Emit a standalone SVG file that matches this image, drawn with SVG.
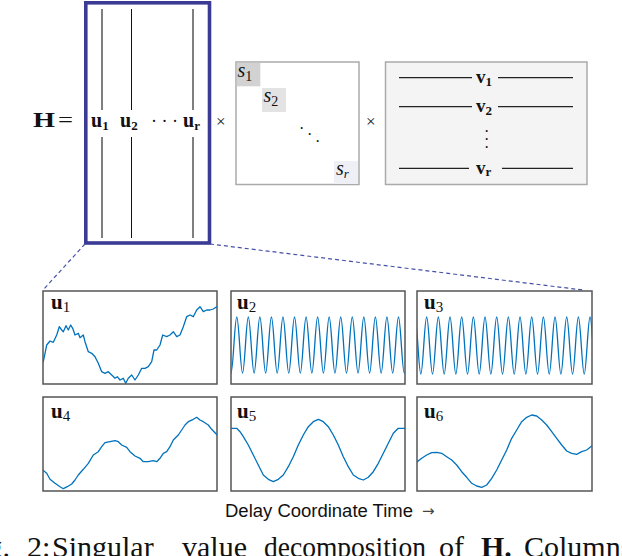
<svg xmlns="http://www.w3.org/2000/svg" width="622" height="556" viewBox="0 0 622 556">
<style>
.m{font-family:"Liberation Serif","Times New Roman",serif;fill:#111}
.b{font-weight:bold}
.i{font-style:italic}
.panel{fill:#fff;stroke:#555;stroke-width:1.5}
.wave{fill:none;stroke:#0072BD;stroke-width:1.3;stroke-linejoin:round;stroke-linecap:round}
.col{stroke:#555;stroke-width:1.5}
.vline{stroke:#222;stroke-width:1.2}
.dash{stroke:#4650a8;stroke-width:1.2;stroke-dasharray:4 3;fill:none}
.box{stroke:#aaa;stroke-width:1.5}
</style>
<defs>
<clipPath id="c1"><rect x="43" y="291" width="174" height="93"/></clipPath>
<clipPath id="c2"><rect x="231" y="291" width="174" height="93"/></clipPath>
<clipPath id="c3"><rect x="417" y="291" width="175" height="93"/></clipPath>
<clipPath id="c4"><rect x="43" y="397" width="174" height="94"/></clipPath>
<clipPath id="c5"><rect x="231" y="397" width="174" height="94"/></clipPath>
<clipPath id="c6"><rect x="417" y="397" width="175" height="94"/></clipPath>
</defs>
<rect width="622" height="556" fill="#fff"/>

<g id="H-label">
<text class="m b" x="33" y="127" font-size="21" textLength="22" lengthAdjust="spacingAndGlyphs">H</text>
<text class="m" x="58" y="127" font-size="22" textLength="15" lengthAdjust="spacingAndGlyphs">=</text>
</g>

<g id="U-matrix">
<rect x="85.8" y="2.8" width="123.7" height="240.2" fill="none" stroke="#3b3b96" stroke-width="3.6"/>
<line class="col" x1="102" y1="9" x2="102" y2="110"/>
<line class="col" x1="102" y1="137" x2="102" y2="238"/>
<line x1="131.5" y1="9" x2="131.5" y2="110" stroke="#111" stroke-width="1"/>
<line x1="131.5" y1="137" x2="131.5" y2="238" stroke="#111" stroke-width="1"/>
<line class="col" x1="193" y1="9" x2="193" y2="110"/>
<line class="col" x1="193" y1="137" x2="193" y2="238"/>
<text class="m b" x="91" y="127" font-size="20">u<tspan font-size="13" dy="3">1</tspan></text>
<text class="m b" x="120" y="127" font-size="20">u<tspan font-size="13" dy="3">2</tspan></text>
<text class="m" x="151" y="127" font-size="18" fill="#444">· · ·</text>
<text class="m b" x="183" y="127" font-size="20">u<tspan font-size="13" dy="3">r</tspan></text>
</g>

<g id="times1"><text class="m" x="216" y="127" font-size="17" fill="#333">×</text></g>

<g id="S-matrix">
<rect class="box" x="236" y="62" width="123" height="122.5" fill="#fff"/>
<rect x="236.8" y="62.8" width="23.5" height="23.5" fill="#d2d2d2"/>
<rect x="262" y="88" width="24" height="24" fill="#e3e3e3"/>
<rect x="334" y="161" width="24" height="23" fill="#eef0f5"/>
<text class="m i" x="237.5" y="77" font-size="20">s<tspan font-style="normal" font-size="14" dy="4">1</tspan></text>
<text class="m i" x="263.5" y="102" font-size="20">s<tspan font-style="normal" font-size="14" dy="4">2</tspan></text>
<text class="m i" x="336" y="175" font-size="20">s<tspan font-size="13" dy="3">r</tspan></text>
<text class="m" font-size="16"><tspan x="299" y="134">·</tspan><tspan x="307" y="140">·</tspan><tspan x="315" y="147">·</tspan></text>
</g>

<g id="times2"><text class="m" x="366" y="127" font-size="17" fill="#333">×</text></g>

<g id="V-matrix">
<rect class="box" x="385.5" y="62" width="201.5" height="122.5" fill="#f4f4f4"/>
<line class="vline" x1="399" y1="77.7" x2="472" y2="77.7"/>
<line class="vline" x1="498" y1="77.7" x2="573" y2="77.7"/>
<line class="vline" x1="399" y1="106.7" x2="472" y2="106.7"/>
<line class="vline" x1="498" y1="106.7" x2="573" y2="106.7"/>
<line class="vline" x1="399" y1="168.3" x2="469" y2="168.3"/>
<line class="vline" x1="502" y1="168.3" x2="573" y2="168.3"/>
<text class="m b" x="476" y="83" font-size="19">v<tspan font-size="13" dy="3">1</tspan></text>
<text class="m b" x="476" y="112" font-size="19">v<tspan font-size="13" dy="3">2</tspan></text>
<text class="m b" x="476" y="173.5" font-size="19">v<tspan font-size="13" dy="2">r</tspan></text>
<text class="m" font-size="16"><tspan x="484" y="137">·</tspan><tspan x="484" y="145">·</tspan><tspan x="484" y="153">·</tspan></text>
</g>

<g id="connectors">
<line class="dash" x1="85" y1="244" x2="43" y2="290"/>
<line class="dash" x1="210" y1="244" x2="583" y2="290"/>
</g>

<g id="panel-u1">
<rect class="panel" x="43" y="291" width="174" height="93"/>
<polyline class="wave" clip-path="url(#c1)" points="43.3,361.7 46.7,345 50,341 53.3,342.3 56.7,335 59.3,326.7 61.7,330 63.3,331.7 66,325.7 68.3,330 70.7,325 72.7,328.3 75,335 78.3,333.3 80,337.7 83.3,335 85,341.7 88.3,351.7 91.7,353.3 95,356.7 98.3,363.3 101.7,371.7 105,373.3 108.3,371.7 111.7,375 115,378.3 117.3,376.7 120,380 123.3,378.3 125.7,383.3 128.3,378.3 131.7,375 135,380 138.3,375 141.7,368.3 145,368.3 148.3,366.7 151.7,361.7 154,350 156.7,350 160,345 162.7,335 166.7,336.7 170,335 173.3,331.7 176.7,336.7 180,335 183.3,326.7 186.7,316.7 190,315 193.3,316.7 196.7,310 200,306.7 203.3,311.7 206.7,310 210,310 213.3,309 216.7,306.7"/>
<text class="m b" x="51" y="309" font-size="21">u<tspan font-weight="normal" font-size="15" dy="3">1</tspan></text>
</g>

<g id="panel-u2">
<rect class="panel" x="231" y="291" width="174" height="93"/>
<path class="wave" clip-path="url(#c2)" d="M231,373c2.1,0 3.675,-56 5.775,-56s3.675,56 5.775,56s3.675,-56 5.775,-56s3.675,56 5.775,56s3.675,-56 5.775,-56s3.675,56 5.775,56s3.675,-56 5.775,-56s3.675,56 5.775,56s3.675,-56 5.775,-56s3.675,56 5.775,56s3.675,-56 5.775,-56s3.675,56 5.775,56s3.675,-56 5.775,-56s3.675,56 5.775,56s3.675,-56 5.775,-56s3.675,56 5.775,56s3.675,-56 5.775,-56s3.675,56 5.775,56s3.675,-56 5.775,-56s3.675,56 5.775,56s3.675,-56 5.775,-56s3.675,56 5.775,56s3.675,-56 5.775,-56s3.675,56 5.775,56s3.675,-56 5.775,-56s3.675,56 5.775,56s3.675,-56 5.775,-56s3.675,56 5.775,56s3.675,-56 5.775,-56s3.675,56 5.775,56"/>
<text class="m b" x="237" y="309" font-size="21">u<tspan font-weight="normal" font-size="15" dy="3">2</tspan></text>
</g>

<g id="panel-u3">
<rect class="panel" x="417" y="291" width="175" height="93"/>
<path class="wave" clip-path="url(#c3)" d="M415,317c2.125,0 3.71,57 5.835,57s3.71,-57 5.835,-57s3.71,57 5.835,57s3.71,-57 5.835,-57s3.71,57 5.835,57s3.71,-57 5.835,-57s3.71,57 5.835,57s3.71,-57 5.835,-57s3.71,57 5.835,57s3.71,-57 5.835,-57s3.71,57 5.835,57s3.71,-57 5.835,-57s3.71,57 5.835,57s3.71,-57 5.835,-57s3.71,57 5.835,57s3.71,-57 5.835,-57s3.71,57 5.835,57s3.71,-57 5.835,-57s3.71,57 5.835,57s3.71,-57 5.835,-57s3.71,57 5.835,57s3.71,-57 5.835,-57s3.71,57 5.835,57s3.71,-57 5.835,-57s3.71,57 5.835,57s3.71,-57 5.835,-57s3.71,57 5.835,57s3.71,-57 5.835,-57s3.71,57 5.835,57s3.71,-57 5.835,-57s3.71,57 5.835,57"/>
<text class="m b" x="424" y="309" font-size="21">u<tspan font-weight="normal" font-size="15" dy="3">3</tspan></text>
</g>

<g id="panel-u4">
<rect class="panel" x="43" y="397" width="174" height="94"/>
<polyline class="wave" clip-path="url(#c4)" points="42.7,470 46.7,473.3 50,479.3 55,483.3 60,486.7 63.3,488.7 67.3,486.7 71.7,484 75,480 78.3,475 83.3,469.3 88.3,463.3 93.3,455 98.3,451.7 101.7,446.7 105,442.7 110,441.7 115,440.7 118.3,441.7 121.7,445 126.7,447.3 130,451.7 135,456 140,458.3 143.3,461.7 148.3,461.7 153.3,460.7 156.7,461.7 160,458.3 163.3,453.3 166.7,451.7 170,446.7 173.3,440 178.3,435 181.7,430 185,425 188.3,421.7 193.3,419.3 196.7,417.3 200,420 203.3,421.7 208.3,425 211.7,429.3 215,432.7 217.3,435"/>
<text class="m b" x="51" y="418" font-size="21">u<tspan font-weight="normal" font-size="15" dy="3">4</tspan></text>
</g>

<g id="panel-u5">
<rect class="panel" x="231" y="397" width="174" height="94"/>
<polyline class="wave" clip-path="url(#c5)" points="230.7,428.3 236.7,428.3 240,431.7 243.3,436.7 248.3,445 253.3,455 258.3,465 263.3,475 268.3,479.3 273.3,481.7 278.3,479.3 283.3,475 288.3,466.7 293.3,456.7 298.3,445 303.3,435 308.3,426.7 313.3,421.7 318.3,419.3 323.3,421.7 328.3,426.7 333.3,435 338.3,445 343.3,456.7 348.3,466.7 353.3,475 358.3,478.3 363.3,480 368.3,477.3 373.3,471.7 378.3,463.3 383.3,453.3 388.3,443.3 393.3,433.3 398.3,428.3 405,428.3"/>
<text class="m b" x="237" y="418" font-size="21">u<tspan font-weight="normal" font-size="15" dy="3">5</tspan></text>
</g>

<g id="panel-u6">
<rect class="panel" x="417" y="397" width="175" height="94"/>
<polyline class="wave" clip-path="url(#c6)" points="417.3,461.7 421.7,458.3 426.7,455 431.7,452.7 436.7,452.3 441.7,453.3 446.7,456.7 451.7,460 456.7,465 461.7,471.7 466.7,477.3 471.7,483.3 476.7,486 481.7,487.3 486.7,485 491.7,478.3 496.7,470 501.7,460 506.7,450 511.7,438.3 516.7,430 521.7,421.7 526.7,417.3 531.7,415 536.7,416 541.7,420 546.7,425 551.7,431.7 556.7,438.3 561.7,445 566.7,451 571.7,453.3 576.7,454.3 581.7,451.7 586.7,450 591.7,446"/>
<text class="m b" x="424" y="418" font-size="21">u<tspan font-weight="normal" font-size="15" dy="3">6</tspan></text>
</g>

<g id="axis-label">
<text x="225" y="517" font-family="'Liberation Sans',Arial,sans-serif" font-size="17.5" fill="#111" textLength="188" lengthAdjust="spacingAndGlyphs">Delay Coordinate Time</text>
<text x="422" y="516" font-family="'DejaVu Sans',sans-serif" font-size="15" fill="#444">→</text>
</g>

<g id="caption" class="m" font-size="30">
<text x="10" y="557" text-anchor="end">Fig.</text>
<text x="27" y="557">2:</text>
<text x="52" y="557">Singular</text>
<text x="182" y="557">value</text>
<text x="264" y="557" textLength="162" lengthAdjust="spacingAndGlyphs">decomposition</text>
<text x="439" y="557">of</text>
<text x="481" y="557" font-weight="bold">H.</text>
<text x="524" y="557">Columns</text>
</g>
</svg>
